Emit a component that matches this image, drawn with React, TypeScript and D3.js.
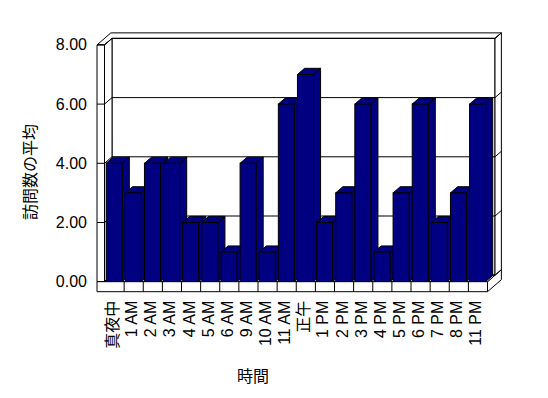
import React from "react";
import * as d3 from "d3";

const categories = ["真夜中", "1 AM", "2 AM", "3 AM", "4 AM", "5 AM", "6 AM", "9 AM", "10 AM", "11 AM", "正午", "1 PM", "2 PM", "3 PM", "4 PM", "5 PM", "6 PM", "7 PM", "8 PM", "11 PM"];
const values = [4, 3, 4, 4, 2, 2, 1, 4, 1, 6, 7, 2, 3, 6, 1, 3, 6, 2, 3, 6];
const yTicks = [0, 2, 4, 6, 8];
const yTitle = "訪問数の平均";
const xTitle = "時間";

const W = 548;
const H = 398;
const X0 = 105;
const X1 = 487.5;
const Y0 = 281.7;
const Y8 = 44.9;
const DX = 7.5;
const DY = -6.5;
const K = 1.85; // outer depth factor
const WALL = 8; // left wall thickness
const FLOOR = 10; // floor thickness
const BAR_COLOR = "#000080";
const FONT = "'Liberation Sans', Arial, 'Noto Sans CJK JP', sans-serif";

export default function App() {
  const x = d3.scaleBand<string>().domain(categories).range([X0, X1]).paddingInner(0).paddingOuter(0);
  const y = d3.scaleLinear().domain([0, 8]).range([Y0, Y8]);
  const bw = x.bandwidth();
  const fmt = d3.format(".2f");
  const line = d3.line();

  const wl = X0 - WALL; // left wall outer x
  const yTop = y(8);
  const pts = (arr: [number, number][]) => arr.map((p) => p.join(",")).join(" ");

  // Structure polygons
  const topFace: [number, number][] = [
    [wl, yTop], [X0 - 0.5, yTop], [X0 - 0.5 + DX, yTop + DY], [X1 + DX, yTop + DY],
    [X1 + DX * K, yTop + DY * K], [wl + DX * K, yTop + DY * K],
  ];
  const backWall: [number, number][] = [
    [X0 - 0.5 + DX, yTop + DY], [X1 + DX, yTop + DY], [X1 + DX, Y0 + DY], [X0 - 0.5 + DX, Y0 + DY],
  ];
  const leftInner: [number, number][] = [
    [X0 - 0.5, yTop], [X0 - 0.5 + DX, yTop + DY], [X0 - 0.5 + DX, Y0 + DY], [X0 - 0.5, Y0],
  ];
  const leftFront: [number, number][] = [[wl, yTop], [X0 - 0.5, yTop], [X0 - 0.5, Y0], [wl, Y0]];
  const rightFace: [number, number][] = [
    [X1 + DX, yTop + DY], [X1 + DX * K, yTop + DY * K], [X1 + DX * K, Y0 + FLOOR + DY * K],
    [X1, Y0 + FLOOR], [X1, Y0], [X1 + DX, Y0 + DY],
  ];
  const floorFront: [number, number][] = [[wl, Y0], [X1, Y0], [X1, Y0 + FLOOR], [wl, Y0 + FLOOR]];
  const floorTop: [number, number][] = [[X0 - 0.5, Y0], [X1, Y0], [X1 + DX, Y0 + DY], [X0 - 0.5 + DX, Y0 + DY]];

  const BD = 0.95;
  const bdx = DX * BD;
  const bdy = DY * BD;

  return (
    <svg width={W} height={H} style={{ position: "absolute", left: 0, top: 0, background: "#fff" }}>
      <rect x={0} y={0} width={W} height={H} fill="#fff" />
      <g fill="#fff" stroke="#000" strokeWidth={1} strokeLinejoin="miter">
        <polygon points={pts(topFace)} />
        <polygon points={pts(backWall)} />
        <polygon points={pts(leftInner)} />
        <polygon points={pts(leftFront)} />
        <polygon points={pts(rightFace)} />
        <polygon points={pts(floorTop)} />
      </g>
      <line x1={X1 + DX} y1={Y0 + DY} x2={X1 + DX * K} y2={Y0 + DY * K} stroke="#000" />
      {/* gridlines */}
      <g fill="none" stroke="#000" strokeWidth={1}>
        {yTicks.map((t) => {
          const yy = y(t);
          return (
            <path
              key={t}
              d={line([[wl, yy], [X0 - 0.5, yy], [X0 - 0.5 + DX, yy + DY], [X1 + DX, yy + DY], [X1 + DX * K, yy + DY * K]]) || ""}
            />
          );
        })}
      </g>
      {/* bars */}
      <g stroke="#000" strokeWidth={1} fill={BAR_COLOR} strokeLinejoin="miter">
        {values.map((v, i) => {
          const bx = (x(categories[i]) as number) + 1.2;
          const bx2 = bx + 16;
          const by = y(v);
          return (
            <g key={i}>
              <polygon points={pts([[bx2, by], [bx2 + bdx, by + bdy], [bx2 + bdx, Y0 + bdy], [bx2, Y0]])} />
              <polygon points={pts([[bx, by], [bx + bdx, by + bdy], [bx2 + bdx, by + bdy], [bx2, by]])} />
              <rect x={bx} y={by} width={bx2 - bx} height={Y0 - by} />
            </g>
          );
        })}
      </g>
      {/* floor front */}
      <polygon points={pts(floorFront)} fill="#fff" stroke="#000" />
      <g stroke="#000">
        {categories.slice(1).map((c) => (
          <line key={c} x1={x(c) as number} x2={x(c) as number} y1={Y0} y2={Y0 + FLOOR} />
        ))}
      </g>
      {/* y tick labels */}
      <g fontFamily={FONT} fontSize={16} fill="#000">
        {yTicks.map((t) => (
          <text key={t} x={87} y={y(t)} textAnchor="end" dominantBaseline="central">{fmt(t)}</text>
        ))}
      </g>
      {/* x labels */}
      <g fontFamily={FONT} fontSize={16} fill="#000">
        {categories.map((c) => {
          const cx = (x(c) as number) + bw / 2 - 2;
          const cy = Y0 + FLOOR + 9;
          return (
            <text key={c} x={cx} y={cy} transform={`rotate(-90 ${cx} ${cy})`} textAnchor="end" dominantBaseline="central">{c}</text>
          );
        })}
      </g>
      <text x={30} y={172} transform="rotate(-90 30 172)" textAnchor="middle" dominantBaseline="central" fontFamily={FONT} fontSize={16}>{yTitle}</text>
      <text x={253} y={376} textAnchor="middle" dominantBaseline="central" fontFamily={FONT} fontSize={16}>{xTitle}</text>
    </svg>
  );
}
